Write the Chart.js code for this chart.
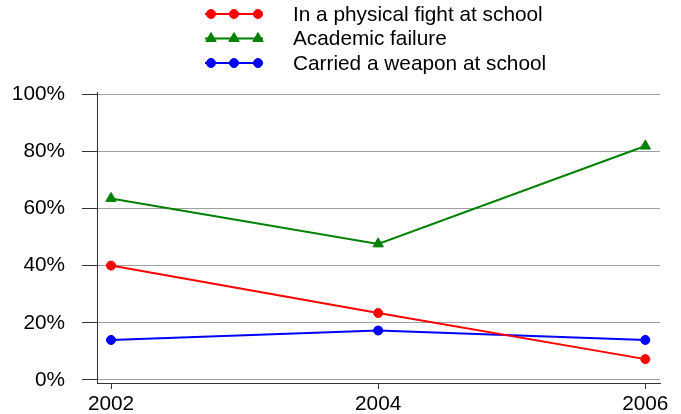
<!DOCTYPE html>
<html><head><meta charset="utf-8">
<script src="https://cdn.jsdelivr.net/npm/chart.js@4/dist/chart.umd.min.js"></script>
<style>html,body{margin:0;padding:0;background:#fff;}#wrap{width:681px;height:414px;}</style>
</head><body><div id="wrap"><canvas id="c" width="681" height="414"></canvas></div>
<script>
const years = [2002, 2004, 2006];
const seriesNames = ["In a physical fight at school", "Academic failure", "Carried a weapon at school"];
const fightValues = [40.0, 23.4, 7.3];
const failureValues = [63.5, 47.6, 81.8];
const weaponValues = [14.0, 17.3, 14.0];
const yTickValues = [0, 20, 40, 60, 80, 100];
const colors = ["#ff0000", "#008000", "#0000ff"];
const styles = ["circle", "triangle", "circle"];

const FONT = "'Liberation Sans', Arial, sans-serif";
const FS = 20.8;
const toPts = v => v.map((y, i) => ({x: years[i], y}));

const legendPlugin = {
  id: 'customLegend',
  afterDraw(chart) {
    const ctx = chart.ctx;
    ctx.save();
    chart.data.datasets.forEach((ds, i) => {
      const cy = 14 + i * 24.5;
      ctx.strokeStyle = ds.borderColor; ctx.lineWidth = 2;
      ctx.beginPath(); ctx.moveTo(205, cy); ctx.lineTo(263, cy); ctx.stroke();
      [211, 234, 258].forEach(cx => {
        ctx.fillStyle = ds.backgroundColor; ctx.strokeStyle = ds.borderColor; ctx.lineWidth = 1;
        Chart.helpers.drawPoint(ctx, {pointStyle: ds.pointStyle, radius: ds.pointRadius, borderWidth: 1}, cx, cy);
      });
      ctx.fillStyle = '#000'; ctx.font = FS + 'px ' + FONT; ctx.textBaseline = 'middle'; ctx.textAlign = 'left';
      ctx.fillText(ds.label, 293, cy + 1);
    });
    ctx.restore();
  }
};

const allValues = [fightValues, failureValues, weaponValues];
new Chart(document.getElementById('c'), {
  type: 'line',
  data: {
    datasets: allValues.map((vals, i) => ({
      label: seriesNames[i],
      data: toPts(vals),
      borderColor: colors[i],
      backgroundColor: colors[i],
      borderWidth: 2,
      pointStyle: styles[i],
      pointRadius: styles[i] === 'triangle' ? 6 : 4.5,
      pointBorderWidth: 1,
      tension: 0
    }))
  },
  options: {
    responsive: false,
    animation: false,
    layout: {padding: {left: 0, right: 21, top: 92, bottom: 0}},
    plugins: {legend: {display: false}, tooltip: {enabled: false}},
    scales: {
      x: {
        type: 'linear',
        min: 2001.895, max: 2006.11,
        afterBuildTicks: s => { s.ticks = years.map(v => ({value: v})); },
        afterFit: s => { s.height = 31; },
        grid: {drawOnChartArea: false, tickLength: 6, tickColor: '#333', tickWidth: 1},
        border: {color: '#333', width: 1},
        ticks: {color: '#000', font: {size: FS, family: FONT}, padding: 3, callback: v => String(v), maxRotation: 0}
      },
      y: {
        min: -1.05, max: 100.7,
        afterBuildTicks: s => { s.ticks = yTickValues.map(v => ({value: v})); },
        afterFit: s => { s.width = 97; },
        grid: {color: '#a0a0a0', lineWidth: 1, tickLength: 15, tickColor: '#333'},
        border: {color: '#333', width: 1},
        ticks: {color: '#000', font: {size: FS, family: FONT}, padding: 17, callback: v => v + '%'}
      }
    }
  },
  plugins: [legendPlugin]
});
</script>
</body></html>
